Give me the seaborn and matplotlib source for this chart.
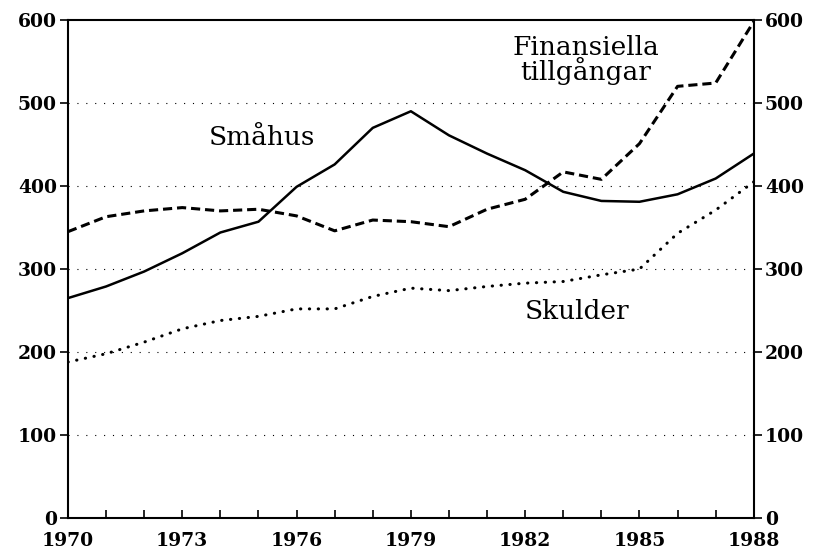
import pandas as pd
import seaborn as sns
import matplotlib.pyplot as plt

sns.set_style("white")
plt.rcParams['font.family'] = ['DejaVu Serif']

years = list(range(1970, 1989))
smahus = [265, 279, 297, 319, 344, 357, 399, 426, 470, 490, 461, 439, 419, 393, 382, 381, 390, 409, 439]
finansiella = [345, 363, 370, 374, 370, 372, 364, 346, 359, 357, 351, 372, 384, 417, 408, 451, 520, 524, 598]
skulder = [188, 198, 212, 228, 238, 243, 252, 252, 267, 277, 274, 279, 283, 285, 293, 300, 343, 371, 405]

df = pd.DataFrame({"year": years, "Småhus": smahus,
                   "Finansiella tillgångar": finansiella, "Skulder": skulder})

fig = plt.figure(figsize=(8.14, 5.53), dpi=100)
ax = fig.add_axes([0.0835, 0.063, 0.8425, 0.901])

sns.lineplot(data=df, x="year", y="Småhus", ax=ax, color="black", lw=1.8)
sns.lineplot(data=df, x="year", y="Finansiella tillgångar", ax=ax, color="black",
             lw=2.2, linestyle=(0, (3, 1.6)))
sns.lineplot(data=df, x="year", y="Skulder", ax=ax, color="black",
             lw=2.2, linestyle=(0, (0.1, 2.8)), dash_capstyle="round")

ax.set_xlim(1970, 1988)
ax.set_ylim(0, 600)
ax.set_xticks(range(1970, 1989, 3))
ax.set_xticks(years, minor=True)
ax.set_yticks(range(0, 601, 100))
ax.set_xlabel("")
ax.set_ylabel("")
for y in range(100, 600, 100):
    ax.axhline(y, color="black", lw=0.8, linestyle=(0, (1, 7)), zorder=0)

for s in ax.spines.values():
    s.set_color("black")
    s.set_linewidth(1.5)
ax.tick_params(axis="y", which="both", left=True, right=True, labelleft=True, labelright=True,
               direction="out", length=6, width=1.2, labelsize=13.5, pad=2, colors="black")
ax.tick_params(axis="x", which="both", bottom=True, direction="in", length=6, width=1.2,
               labelsize=13.5, pad=10, colors="black")
for lab in ax.xaxis.get_ticklabels() + ax.yaxis.get_ticklabels():
    lab.set_fontweight("bold")
for t in ax.yaxis.get_major_ticks():
    t.label2.set_fontweight("bold")

ax.text(1973.7, 458, "Småhus", fontsize=19, ha="left", va="center", color="black")
ax.text(1983.6, 552, "Finansiella\ntillgångar", fontsize=19, ha="center", va="center",
        linespacing=0.85, color="black")
ax.text(1982.0, 249, "Skulder", fontsize=19, ha="left", va="center", color="black")

plt.savefig("out.png", dpi=100)
